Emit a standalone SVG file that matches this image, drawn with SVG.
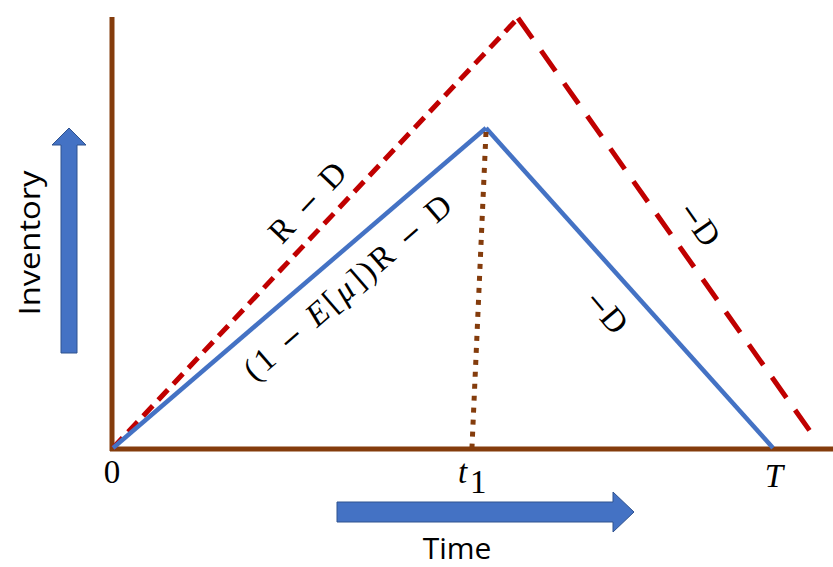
<svg xmlns="http://www.w3.org/2000/svg" width="833" height="567" viewBox="0 0 833 567">
<style>
.axis{stroke:#843C0C;stroke-width:5;fill:none}
.red{stroke:#C00000;stroke-width:5;fill:none}
.blue{stroke:#4472C4;stroke-width:4.5;fill:none}
.dot{stroke:#843C0C;stroke-width:5;fill:none;stroke-dasharray:5 7}
.math{font-family:"Liberation Serif","DejaVu Serif",serif;font-size:33px;fill:#000}
.mn{font-family:"DejaVu Serif",serif;font-size:28px}
.lbl{font-family:"Open Sans","Noto Sans",sans-serif;font-size:30px;fill:#000}
.barrow{fill:#4472C4;stroke:#2F528F;stroke-width:1}
</style>
<rect width="833" height="567" fill="#fff"/>
<g id="axes">
<line class="axis" x1="112" y1="17" x2="112" y2="451"/>
<line class="axis" x1="110" y1="449" x2="833" y2="449"/>
</g>
<g id="connectors">
<line class="red" x1="113" y1="448" x2="518" y2="18" style="stroke-dasharray:14 8"/>
<line class="red" x1="518" y1="18" x2="817" y2="441" style="stroke-dasharray:25 15"/>
<line class="blue" x1="113" y1="448" x2="486" y2="128"/>
<line class="blue" x1="486" y1="128" x2="773" y2="448"/>
<line class="dot" x1="486" y1="132" x2="472" y2="447"/>
</g>
<g id="labels">
<text class="math" x="112" y="483" text-anchor="middle">0</text>
<text class="math" x="458" y="483" font-style="italic">t</text>
<text class="math" x="470" y="493" font-size="24">1</text>
<text class="math" x="774" y="487" text-anchor="middle" font-style="italic">T</text>
<text class="math" transform="translate(308,203) rotate(-46.8)" text-anchor="middle" dy="10" textLength="97" lengthAdjust="spacing">R <tspan class="mn">−</tspan> D</text>
<text class="math" transform="translate(348,288) rotate(-41)" text-anchor="middle" dy="10" textLength="264" lengthAdjust="spacing">(1 <tspan class="mn">−</tspan> <tspan font-style="italic">E</tspan>[<tspan font-style="italic">μ</tspan>])R <tspan class="mn">−</tspan> D</text>
<text class="math" transform="translate(606,312) rotate(50)" text-anchor="middle" dy="10"><tspan class="mn">−</tspan>D</text>
<text class="math" transform="translate(699,224) rotate(55)" text-anchor="middle" dy="10"><tspan class="mn">−</tspan>D</text>
</g>
<g id="time">
<polygon class="barrow" points="337,502 613,502 613,492 634,512 613,532 613,522 337,522"/>
<text class="lbl" x="457" y="559" text-anchor="middle">Time</text>
</g>
<g id="inventory">
<polygon class="barrow" points="61,353 61,145 52,145 69,128 86,145 77,145 77,353"/>
<text class="lbl" transform="translate(40,243) rotate(-90)" text-anchor="middle" textLength="145" lengthAdjust="spacingAndGlyphs">Inventory</text>
</g>
</svg>
